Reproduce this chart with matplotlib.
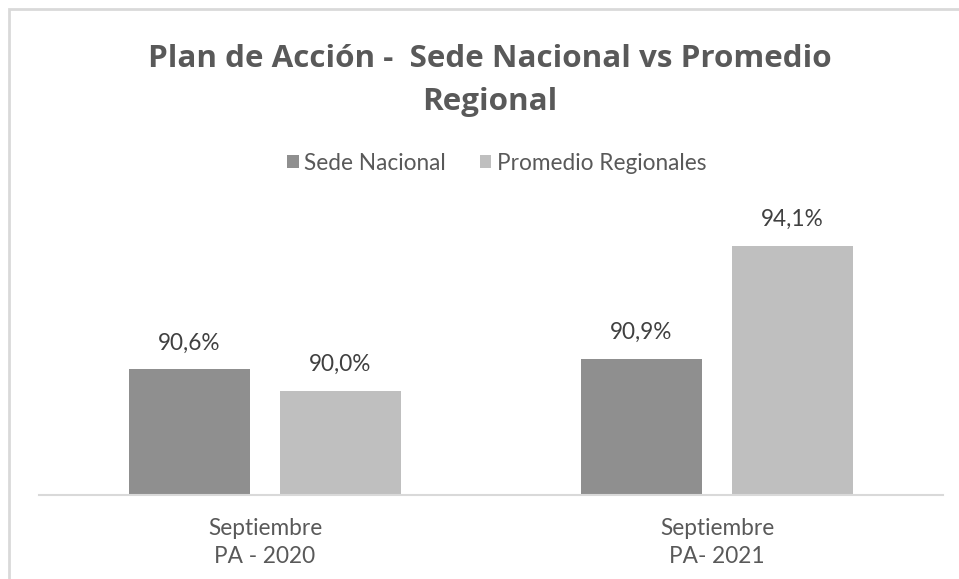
import matplotlib
matplotlib.use("Agg")
import matplotlib.pyplot as plt
from matplotlib.patches import Rectangle
import numpy as np

categories = ["Septiembre\nPA - 2020", "Septiembre\nPA- 2021"]
series_names = ["Sede Nacional", "Promedio Regionales"]
sede_nacional = [90.6, 90.9]
promedio_regionales = [90.0, 94.1]
colors = ["#8f8f8f", "#bfbfbf"]

plt.rcParams['font.family'] = ['Lato', 'DejaVu Sans']

W, H = 959, 579
fig = plt.figure(figsize=(W / 100, H / 100), dpi=100)
fig.patch.set_facecolor("white")

# chart border (cropped at right/bottom)
fig.add_artist(Rectangle((9 / W, -0.05), 1.1, (H - 9) / H + 0.05, transform=fig.transFigure,
                         fill=False, edgecolor="#d9d9d9", linewidth=2))

ax = fig.add_axes([39 / W, (H - 495) / H, 904 / W, 320 / H])
x = np.arange(len(categories))
bw = 0.268
off = 0.167
b1 = ax.bar(x - off, sede_nacional, bw, color=colors[0], label=series_names[0])
b2 = ax.bar(x + off, promedio_regionales, bw, color=colors[1], label=series_names[1])

ax.set_ylim(87.05, 96.1)
ax.set_xlim(-0.5, 1.5)
for bars, vals in ((b1, sede_nacional), (b2, promedio_regionales)):
    for r, v in zip(bars, vals):
        ax.annotate(f"{v:.1f}%".replace(".", ","), (r.get_x() + r.get_width() / 2, v),
                    xytext=(0, 19), textcoords="offset points", ha="center", va="center",
                    fontsize=16.3, color="#404040")

for s in ["top", "right", "left"]:
    ax.spines[s].set_visible(False)
ax.spines["bottom"].set_color("#d9d9d9")
ax.spines["bottom"].set_linewidth(1.5)
ax.set_yticks([])
ax.set_xticks(x)
ax.set_xticklabels(categories, fontsize=16.3, color="#595959", linespacing=1.43)
ax.tick_params(axis="x", length=0, pad=16.5)

fig.text(489.5 / W, 1 - 59 / H, "Plan de Acción -  Sede Nacional vs Promedio", ha="center", va="center",
         fontsize=22.6, fontweight="bold", color="#595959", family=["Open Sans", "DejaVu Sans"])
fig.text(489.5 / W, 1 - 102 / H, "Regional", ha="center", va="center",
         fontsize=22.6, fontweight="bold", color="#595959", family=["Open Sans", "DejaVu Sans"])

leg = fig.legend(handles=[b1, b2], loc="center", bbox_to_anchor=(497 / W, 1 - 163 / H), ncol=2,
                 frameon=False, fontsize=16.3, handlelength=0.5, handleheight=0.5,
                 handletextpad=0.25, columnspacing=1.5)
for t in leg.get_texts():
    t.set_color("#595959")

fig.savefig("out.png", dpi=100, facecolor="white")
